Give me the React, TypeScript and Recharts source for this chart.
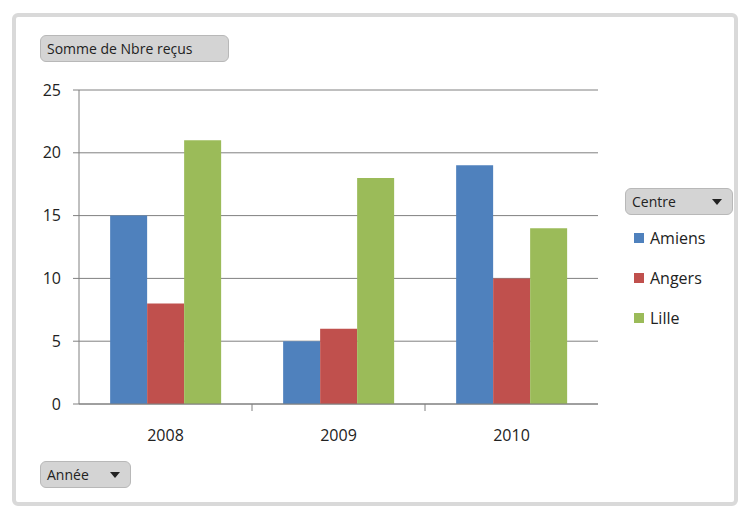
import { BarChart, Bar, XAxis, YAxis, CartesianGrid } from "recharts";

const years = ["2008", "2009", "2010"];
const amiens = [15, 5, 19];
const angers = [8, 6, 10];
const lille = [21, 18, 14];
const yTicks = [0, 5, 10, 15, 20, 25];

const series = [
  { key: "Amiens", values: amiens, color: "#4F81BD" },
  { key: "Angers", values: angers, color: "#C0504D" },
  { key: "Lille", values: lille, color: "#9BBB59" },
];

const data = years.map((year, i) => ({
  year,
  Amiens: amiens[i],
  Angers: angers[i],
  Lille: lille[i],
}));

const font = "'Open Sans', 'DejaVu Sans', sans-serif";

const buttonStyle: React.CSSProperties = {
  position: "absolute",
  background: "#d4d4d4",
  border: "1px solid #b8b8b8",
  borderRadius: 6,
  fontFamily: font,
  fontSize: 14,
  color: "#222",
  display: "flex",
  alignItems: "center",
  paddingLeft: 6,
  boxSizing: "border-box",
};

function Arrow() {
  return (
    <span
      style={{
        position: "absolute",
        right: 10,
        top: 10,
        width: 0,
        height: 0,
        borderLeft: "5px solid transparent",
        borderRight: "5px solid transparent",
        borderTop: "6px solid #222",
      }}
    />
  );
}

// x-axis tick: label at category centre, tick mark at band boundary
function YearTick(props: any) {
  const { x, y, payload, index } = props;
  const band = 173;
  return (
    <g>
      {index < years.length - 1 && (
        <line x1={x + band / 2} x2={x + band / 2} y1={y - 8} y2={y - 1} stroke="#808080" />
      )}
      <text x={x} y={y + 29} textAnchor="middle" fill="#222" fontSize={16} fontFamily={font}>
        {payload.value}
      </text>
    </g>
  );
}

function LegendBox() {
  return (
    <div style={{ position: "absolute", left: 634, top: 218, fontFamily: font, fontSize: 16, color: "#222" }}>
      {series.map((s) => (
        <div key={s.key} style={{ display: "flex", alignItems: "center", height: 40 }}>
          <span style={{ width: 10, height: 10, background: s.color, marginRight: 6 }} />
          {s.key}
        </div>
      ))}
    </div>
  );
}

export default function App() {
  return (
    <div style={{ position: "absolute", left: 0, top: 0, width: 747, height: 513, background: "#fff" }}>
      <div
        style={{
          position: "absolute",
          left: 12,
          top: 13,
          width: 726,
          height: 493,
          border: "4px solid #d9d9d9",
          borderRadius: 6,
          boxSizing: "border-box",
        }}
      />
      <BarChart
        width={747}
        height={513}
        data={data}
        margin={{ top: 90, right: 149, bottom: 0, left: 0 }}
        barGap={0}
        barCategoryGap="18%"
      >
        <CartesianGrid horizontal vertical={false} stroke="#808080" />
        <XAxis
          dataKey="year"
          stroke="#808080"
          tickLine={false}
          tick={<YearTick />}
          height={109}
        />
        <YAxis
          width={79}
          domain={[0, 25]}
          ticks={yTicks}
          stroke="#808080"
          tickSize={6}
          tickMargin={12}
          tick={{ fill: "#222", fontSize: 16, fontFamily: font }}
        />
        {series.map((s) => (
          <Bar key={s.key} dataKey={s.key} fill={s.color} isAnimationActive={false} />
        ))}
      </BarChart>
      <LegendBox />
      <div style={{ ...buttonStyle, left: 40, top: 35, width: 189, height: 27 }}>Somme de Nbre reçus</div>
      <div style={{ ...buttonStyle, left: 625, top: 188, width: 108, height: 27 }}>
        Centre
        <Arrow />
      </div>
      <div style={{ ...buttonStyle, left: 40, top: 461, width: 91, height: 27 }}>
        Année
        <Arrow />
      </div>
    </div>
  );
}
